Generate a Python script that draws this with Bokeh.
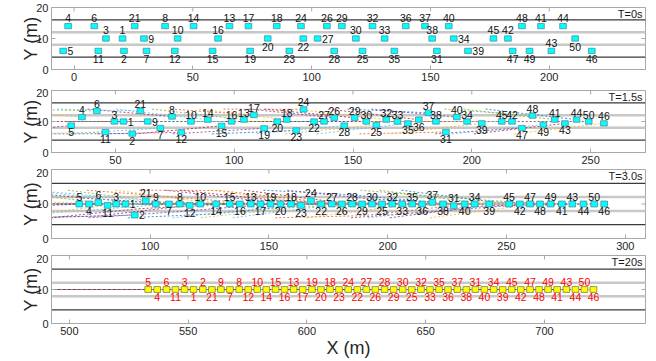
from bokeh.plotting import figure
from bokeh.layouts import column
from bokeh.models import Span, Label, FixedTicker, Range1d, ColumnDataSource
from bokeh.core.properties import value
from bokeh.embed import file_html
from bokeh.resources import INLINE

vehicle_id = list(range(1, 51))

# ---- T = 0 s ----
x_t0 = [20.4, 21.0, 13.4, -2.5, -4.6, 8.5, 30.5, 38.3, 29.4, 43.6,
        10.2, 42.4, 65.4, 50.3, 58.3, 60.6, 73.4, 85.3, 74.1, 81.5,
        25.5, 96.5, 90.6, 95.5, 121.4, 106.4, 102.5, 109.5, 112.7, 118.6,
        152.7, 125.6, 130.7, 159.8, 134.8, 139.6, 147.7, 150.7, 165.8, 157.7,
        196.5, 182.6, 200.9, 205.8, 176.5, 217.9, 184.6, 188.5, 191.7, 210.9]
y_t0 = [10, 6, 10, 14, 6, 14, 6, 14, 10, 10,
        6, 6, 14, 14, 6, 10, 14, 14, 6, 10,
        14, 10, 6, 14, 6, 14, 10, 6, 14, 10,
        6, 14, 10, 10, 6, 14, 14, 10, 6, 14,
        14, 10, 6, 14, 10, 6, 6, 14, 6, 10]

# ---- T = 1.5 s ----
x_t15 = [53.4, 57.1, 49.6, 35.9, 31.4, 42.2, 68.9, 73.8, 63.6, 81.8,
         45.8, 77.7, 104.1, 88.9, 94.7, 98.9, 108.3, 122.1, 112.6, 118.1,
         60.5, 133.6, 126.1, 129.2, 159.8, 142.1, 137.8, 146.3, 150.7, 155.6,
         189.1, 164.0, 168.7, 198.0, 173.1, 177.7, 181.8, 184.9, 204.2, 193.7,
         234.9, 216.9, 239.2, 244.1, 212.6, 255.6, 221.1, 225.5, 230.1, 249.2]
y_t15 = [10, 6.1, 10, 11.4, 8.7, 13.4, 7.9, 11.6, 10, 10,
         6.6, 6.5, 10.6, 10.6, 8.6, 10, 12.1, 10.6, 7.8, 10,
         13.4, 10, 7.1, 13.9, 8.9, 11.2, 10, 8.7, 11.2, 10,
         6.6, 10.6, 10, 10, 9.4, 10.6, 12.8, 10, 9.4, 11.4,
         10.6, 10, 9.4, 10.6, 10, 9.4, 7.9, 11.9, 9.0, 10]

# ---- T = 3.0 s ----
x_t3 = [89.6, 93.5, 85.7, 74.3, 70.2, 78.2, 107.9, 112.5, 102.4, 121.1,
        82.1, 116.7, 142.4, 127.8, 133.5, 137.8, 146.5, 159.3, 150.7, 154.9,
        98.2, 172.0, 163.5, 167.7, 197.6, 180.7, 176.5, 185.0, 189.2, 193.4,
        227.8, 201.9, 206.1, 236.6, 210.3, 214.5, 218.8, 223.3, 242.7, 232.4,
        273.3, 255.6, 277.7, 282.4, 251.1, 291.1, 259.9, 264.1, 268.6, 286.9]
y_t3 = [10, 6.8, 10, 10, 10, 10.4, 10, 10, 10, 10,
        9.6, 9.6, 10, 10, 10, 10, 10, 10, 10, 10,
        10.9, 10, 9.6, 10.9, 10, 10, 10, 10, 10, 10,
        9.5, 10, 10, 10, 10, 10, 10.5, 10, 10, 10,
        10, 10, 10, 10, 10, 10, 10, 10, 10, 10]

# ---- T = 20 s ----
x_t20 = [552.3, 556.2, 548.5, 537.0, 533.2, 540.9, 567.6, 571.5, 563.8, 579.1,
         544.7, 575.3, 594.4, 582.9, 586.8, 590.6, 598.2, 609.7, 602.1, 605.9,
         560.0, 621.2, 613.5, 617.4, 644.1, 628.8, 625.0, 632.7, 636.5, 640.3,
         670.9, 648.0, 651.8, 678.6, 655.6, 659.4, 663.3, 667.1, 682.4, 674.7,
         705.3, 690.0, 709.2, 713.0, 686.2, 720.6, 693.9, 697.7, 701.5, 716.8]
y_t20 = [10, 10, 10, 10, 10, 10, 10, 10, 10, 10,
         10, 10, 10, 10, 10, 10, 10, 10, 10, 10,
         10, 10, 10, 10, 10, 10, 10, 10, 10, 10,
         10, 10, 10, 10, 10, 10, 10, 10, 10, 10,
         10, 10, 10, 10, 10, 10, 10, 10, 10, 10]

# label placement per vehicle: a = above, b = below, r = right
place_t0 = "abaarabara" "bbaabaaabb" "abbabarbaa" "baarbaaara" "aaaaabbabb"
place_t15 = "rbaababara" "bbaabaaabb" "abbabaabaa" "baaabbaaba" "aabaaababa"
place_t3 = "rrabaabaaa" "bbababbaab" "abbabbaaba" "aabaababbb" "bbabababaa"
place_t20 = "baabaabaaa" "bbababbaab" "bbbabbaaba" "aabaababbb" "bbabababaa"

time_labels = ["T=0s", "T=1.5s", "T=3.0s", "T=20s"]
x_limits = [(-9.5, 240.5), (23.1, 273.1), (58.5, 308.5), (492.5, 742.5)]
y_limits = (0, 20)
lane_edges = [4, 16]
lane_dividers = [8, 12]
y_ticks = [0, 10, 20]
x_ticks = [0, 50, 100, 150, 200, 250, 300, 350, 400, 450, 500, 550, 600, 650, 700, 750]

traj_palette = ['#A2142F', '#0072BD', '#D95319', '#EDB120', '#7E2F8E', '#77AC30', '#4DBEEE']
traj_colors = [traj_palette[(i - 1) % 7] for i in vehicle_id]

FONT = "Liberation Sans"
AX_GRAY = "#a8a8a8"


def make_panel(k, xs, ys, place, traj_xs, traj_ys, traj_dash, fill, edge, lab_color,
               height, top, bottom, lab_off, xlabel=None):
    x0, x1 = x_limits[k]
    p = figure(width=656, height=height, x_range=Range1d(x0, x1), y_range=Range1d(*y_limits),
               output_backend="svg", toolbar_location=None,
               min_border_left=51, min_border_right=11, min_border_top=top, min_border_bottom=bottom)
    p.xgrid.visible = False
    p.ygrid.visible = False
    p.outline_line_color = AX_GRAY
    p.background_fill_color = "white"
    p.border_fill_color = "white"

    p.xaxis.ticker = FixedTicker(ticks=x_ticks)
    p.yaxis.ticker = FixedTicker(ticks=y_ticks)
    for ax in list(p.xaxis) + list(p.yaxis):
        ax.major_tick_in = 4
        ax.major_tick_out = 0
        ax.minor_tick_in = 0
        ax.minor_tick_out = 0
        ax.axis_line_color = AX_GRAY
        ax.major_tick_line_color = AX_GRAY
        ax.major_label_text_font = FONT
        ax.major_label_text_font_size = "11px"
        ax.major_label_text_color = "#262626"
        ax.major_label_standoff = 3
        ax.axis_label_text_font = FONT
        ax.axis_label_text_font_style = "normal"
        ax.axis_label_text_color = "#262626"
    p.yaxis.axis_label = "Y (m)"
    p.yaxis.axis_label_text_font_size = "18px"
    p.yaxis.axis_label_standoff = -8
    if xlabel:
        p.xaxis.axis_label = xlabel
        p.xaxis.axis_label_text_font_size = "18px"
        p.xaxis.axis_label_standoff = 0

    # mirrored ticks on the top and right frame edges (box on)
    top_ticks = [t for t in x_ticks if x0 < t < x1]
    tick_len_y = 4.0 * (y_limits[1] - y_limits[0]) / (height - top - bottom)
    tick_len_x = 4.0 * (x1 - x0) / 594.0
    p.segment(x0=top_ticks, y0=[y_limits[1]] * len(top_ticks), x1=top_ticks,
              y1=[y_limits[1] - tick_len_y] * len(top_ticks), line_color=AX_GRAY, line_width=1)
    p.segment(x0=[x1] * len(y_ticks), y0=y_ticks, x1=[x1 - tick_len_x] * len(y_ticks),
              y1=y_ticks, line_color=AX_GRAY, line_width=1)

    for yv in lane_dividers:
        p.add_layout(Span(location=yv, dimension="width", line_color="#c8c8c8",
                          line_width=2.5, level="underlay"))
    for yv in lane_edges:
        p.add_layout(Span(location=yv, dimension="width", line_color="#3a3a3a",
                          line_width=1.2, level="underlay"))

    if traj_xs is not None:
        tsrc = ColumnDataSource(dict(xs=traj_xs, ys=traj_ys, c=traj_colors))
        p.multi_line(xs="xs", ys="ys", line_color="c", source=tsrc, line_width=1,
                     line_alpha=0.75, line_dash=traj_dash)

    src = ColumnDataSource(dict(x=xs, y=ys))
    p.rect(x="x", y="y", width=2.8, height=1.7, source=src, fill_color=fill,
           line_color=edge, line_width=0.8)

    groups = {"a": ([], [], []), "b": ([], [], []), "r": ([], [], [])}
    for vid, xv, yv, code in zip(vehicle_id, xs, ys, place):
        gx, gy, gt = groups[code]
        if code == "a":
            gx.append(xv); gy.append(yv + lab_off)
        elif code == "b":
            gx.append(xv); gy.append(yv - lab_off)
        else:
            gx.append(xv + 1.8); gy.append(yv)
        gt.append(str(vid))
    settings = {"a": ("center", "bottom"), "b": ("center", "top"), "r": ("left", "middle")}
    for code, (gx, gy, gt) in groups.items():
        if not gx:
            continue
        al, bl = settings[code]
        p.text(x=gx, y=gy, text=gt, text_align=al, text_baseline=bl,
               text_font=value(FONT), text_font_size="10.5px", text_color=lab_color)

    p.add_layout(Label(x=x1, y=18, x_offset=-3, text=time_labels[k],
                       text_align="right", text_baseline="middle", text_font=FONT,
                       text_font_size="11px", text_color="#1a1a1a"))
    return p


traj2_x = [[a, b] for a, b in zip(x_t0, x_t15)]
traj2_y = [[a, b] for a, b in zip(y_t0, y_t15)]
traj3_x = [[a, b, c] for a, b, c in zip(x_t0, x_t15, x_t3)]
traj3_y = [[a, b, c] for a, b, c in zip(y_t0, y_t15, y_t3)]
traj4_x = [[a, b] for a, b in zip(x_t3, x_t20)]
traj4_y = [[b, b] for b in y_t20]

p1 = make_panel(0, x_t0, y_t0, place_t0, None, None, "dotted", "#00ffff", "#4f8f9f", "#111111",
                88, 7, 19, 1.35)
p2 = make_panel(1, x_t15, y_t15, place_t15, traj2_x, traj2_y, "2 2", "#00ffff", "#4f8f9f",
                "#111111", 80, 2, 16, 0.95)
p3 = make_panel(2, x_t3, y_t3, place_t3, traj3_x, traj3_y, "2 2", "#00ffff", "#4f8f9f",
                "#111111", 86, 1, 16, 1.0)
p4 = make_panel(3, x_t20, y_t20, place_t20, traj4_x, traj4_y, "3 2", "#ffff00", "#7f7f3f",
                "#ff0000", 107, 1, 38, 1.0, xlabel="X (m)")

layout = column(p1, p2, p3, p4, spacing=0)
open("out.html", "w").write(file_html(layout, INLINE))
